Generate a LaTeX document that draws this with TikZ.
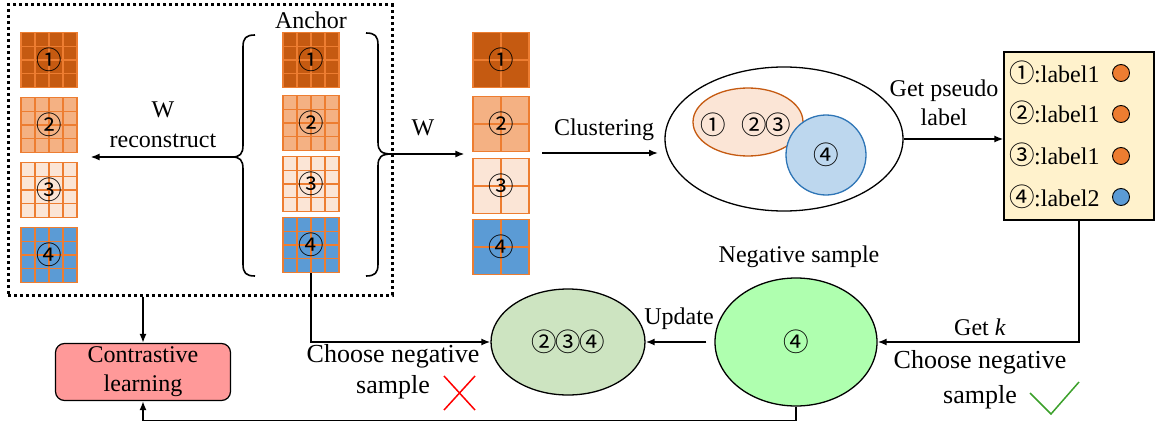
\documentclass[tikz,border=0pt]{standalone}
\usepackage{fontspec}
\setmainfont{Liberation Serif}
\newfontfamily\cjk{Noto Sans CJK SC}
\usetikzlibrary{shapes.geometric,arrows.meta,calc}
\definecolor{dorange}{HTML}{C55A11}
\definecolor{morange}{HTML}{F4B183}
\definecolor{lorange}{HTML}{FBE5D6}
\definecolor{sblue}{HTML}{5B9BD5}
\definecolor{gline}{HTML}{ED7D31}
\definecolor{lblue}{HTML}{BDD7EE}
\definecolor{dblue}{HTML}{2E75B6}
\definecolor{lyellow}{HTML}{FFF2CC}
\definecolor{ngreen}{HTML}{AFFFAF}
\definecolor{sage}{HTML}{CDE4C1}
\definecolor{pinkred}{HTML}{FF9999}
\definecolor{chk}{HTML}{3BA02A}
\newcommand\cn[1]{\makebox[24pt][c]{\cjk\fontsize{25.5}{25.5}\selectfont #1}}
\begin{document}
\begin{tikzpicture}[x=1pt,y=-1pt,
  font=\fontsize{24}{29}\selectfont,
  sq/.style={draw=gline, line width=1.1pt, minimum width=56pt, minimum height=55pt, inner sep=0pt},
  sqgrid/.style={path picture={
    \foreach \i in {1,...,#1} {
      \draw[gline, line width=1.1pt]
        ($(path picture bounding box.north west)!\i/(#1+1)!(path picture bounding box.north east)$) --
        ($(path picture bounding box.south west)!\i/(#1+1)!(path picture bounding box.south east)$);
      \draw[gline, line width=1.1pt]
        ($(path picture bounding box.north west)!\i/(#1+1)!(path picture bounding box.south west)$) --
        ($(path picture bounding box.north east)!\i/(#1+1)!(path picture bounding box.south east)$);
    }}},
  arr/.style={line width=1.6pt, -{Latex[length=9pt,width=7pt]}},
  ell/.style={ellipse, draw, line width=1.3pt, inner sep=0pt},
  dot/.style={circle, draw, line width=0.9pt, minimum size=17pt, inner sep=0pt}
]
\useasboundingbox (0,0) rectangle (1156,428);

% dotted group box
\node[draw, line width=3pt, dash pattern=on 3pt off 3pt, minimum width=384pt, minimum height=290pt, inner sep=0pt] (db) at (200,150) {};

% left reconstructed column
\node[sq, sqgrid=3, fill=dorange] (l1) at (49,60) {\cn{①}};
\node[sq, sqgrid=3, fill=morange] (l2) at (49,125) {\cn{②}};
\node[sq, sqgrid=3, fill=lorange] (l3) at (49,190) {\cn{③}};
\node[sq, sqgrid=3, fill=sblue] (l4) at (49,255) {\cn{④}};

% anchor column
\node (anc) at (311,20) {Anchor};
\node[sq, sqgrid=3, fill=dorange] (a1) at (311,60) {\cn{①}};
\node[sq, sqgrid=3, fill=morange] (a2) at (311,123) {\cn{②}};
\node[sq, sqgrid=3, fill=lorange] (a3) at (311,184) {\cn{③}};
\node[sq, sqgrid=3, fill=sblue] (a4) at (311,245) {\cn{④}};

% braces
\coordinate (lb) at (232,157);
\coordinate (rb) at (392,154);
\draw[line width=1.6pt] (255,35) .. controls (246,35) and (243,38) .. (243,47) -- (243,145)
  .. controls (243,154) and (240,157) .. (lb) .. controls (240,157) and (243,160) .. (243,169)
  -- (243,264) .. controls (243,273) and (246,276) .. (255,276);
\draw[line width=1.6pt] (366,33) .. controls (375,33) and (378,36) .. (378,45) -- (378,142)
  .. controls (378,151) and (381,154) .. (rb) .. controls (381,154) and (378,157) .. (378,166)
  -- (378,264) .. controls (378,273) and (375,276) .. (366,276);

% middle column
\node[sq, sqgrid=1, fill=dorange] (m1) at (501,60) {\cn{①}};
\node[sq, sqgrid=1, fill=morange] (m2) at (501,124) {\cn{②}};
\node[sq, sqgrid=1, fill=lorange] (m3) at (501,186) {\cn{③}};
\node[sq, sqgrid=1, fill=sblue] (m4) at (501,247) {\cn{④}};

% W reconstruct arrow
\draw[arr] (lb) -- ([xshift=13pt]lb -| l2.east);
\node[align=center, font=\fontsize{24}{30}\selectfont] (wrt) at (163,125) {W\\reconstruct};

% W arrow
\draw[arr] (rb) -- ([xshift=-8pt]rb -| m2.west);
\node (wt) at (423,128) {W};

% clustering
\node[ell, minimum width=238pt, minimum height=144pt] (clus) at (784,139) {};
\node[ell, draw=dorange, fill=lorange, minimum width=110pt, minimum height=68pt] (oe) at (748,122) {};
\node[circle, draw=dblue, fill=lblue, line width=1.3pt, minimum size=80pt, inner sep=0pt] (bc) at (826,155) {\cn{④}};
\node[inner sep=0pt] (n1) at (713,125) {\cn{①}};
\node[inner sep=0pt] (n23) at (766,125) {\cn{②}\cn{③}};
\coordinate (mc) at (529,153);
\draw[arr] ([xshift=13pt]mc) -- (658,153);
\node (clt) at (604,130) {Clustering};

% pseudo label
\node[draw, line width=1.2pt, fill=lyellow, minimum width=150pt, minimum height=168pt, inner sep=0pt] (lbox) at (1079,136) {};
\draw[arr] (clus.east) -- (clus.east -| lbox.west);
\node[align=center] (gpl) at (944,103) {Get pseudo\\label};
\node[anchor=west, inner sep=0pt] (e1) at (1010,73) {\cn{①}:label1};
\node[anchor=west, inner sep=0pt] (e2) at (1010,113) {\cn{②}:label1};
\node[anchor=west, inner sep=0pt] (e3) at (1010,155) {\cn{③}:label1};
\node[anchor=west, inner sep=0pt] (e4) at (1010,197) {\cn{④}:label2};
\node[dot, fill=gline] (d1) at (1121,73) {};
\node[dot, fill=gline] (d2) at (1121,114) {};
\node[dot, fill=gline] (d3) at (1121,156) {};
\node[dot, fill=sblue] (d4) at (1121,197) {};

% negative sample
\node[ell, fill=ngreen, minimum width=162pt, minimum height=128pt] (neg) at (796,342) {\cn{④}};
\node (nst) at (799,257) {Negative sample};
\draw[arr] (lbox.south) |- (neg.east);
\node (gk) at (980,327) {Get \textit{k}};
\node[align=center, font=\fontsize{26}{35}\selectfont] (cn2) at (980,380) {Choose negative\\sample};
\draw[chk, line width=1.5pt] (1030,393) -- (1051,414) -- (1079,382);

% updated set
\node[ell, fill=sage, minimum width=154pt, minimum height=106pt] (upd) at (568,342) {\cn{②}\cn{③}\cn{④}};
\draw[arr, shorten <=8pt] (neg.west) -- (upd.east);
\node (upt) at (679,319) {Update};
\draw[arr] (a4.south) |- (upd.west);
\node[align=center, font=\fontsize{26}{31}\selectfont] (cn1) at (393,372) {Choose negative\\sample};
\draw[red, line width=1.5pt] (444,376) -- (475,410) (475,376) -- (444,410);

% contrastive learning
\node[draw, line width=1.2pt, rounded corners=9pt, fill=pinkred, minimum width=175pt, minimum height=57pt, align=center, font=\fontsize{24}{29}\selectfont] (cl) at (143,372) {Contrastive\\learning};
\draw[arr] (db.south -| cl.north) -- (cl.north);
\draw[arr] (neg.south) -- ++(0,14) -| (cl.south);
\end{tikzpicture}
\end{document}
